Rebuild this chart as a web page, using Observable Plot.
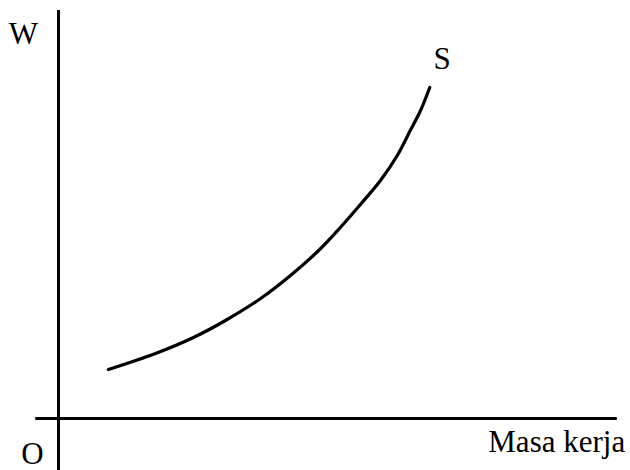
<!DOCTYPE html>
<html>
<head>
<meta charset="utf-8">
<script src="https://cdn.jsdelivr.net/npm/d3@7"></script>
<script src="https://cdn.jsdelivr.net/npm/@observablehq/plot@0.6"></script>
<style>
  html, body { margin: 0; padding: 0; background: #fff; }
  #chart svg { display: block; }
</style>
</head>
<body>
<div id="chart"></div>
<script>
// Labour supply curve S: quantity of labour (Masa kerja) vs wage (W)
const laborQty = [9.2, 17.9, 24.9, 30.8, 37.3, 42.8, 48.0, 52.0, 55.7, 59.4, 62.5, 64.9, 66.8, 68.5];
const wageLevel = [12.25, 16.25, 20.25, 24.5, 30, 35.75, 42, 47.75, 53.5, 59.5, 65.75, 72, 77, 82.75];
const curveName = "S";
const xAxisTitle = "Masa kerja";
const yAxisTitle = "W";
const originLabel = "O";

const curve = laborQty.map((x, i) => ({x, y: wageLevel[i]}));

const font = "'Liberation Serif', 'Times New Roman', serif";
const fs = 31;

const chart = Plot.plot({
  width: 630,
  height: 470,
  marginLeft: 58,
  marginRight: 30,
  marginTop: 18,
  marginBottom: 52,
  x: {domain: [0, 100], axis: null},
  y: {domain: [0, 100], axis: null},
  style: {fontFamily: font, background: "#fff", color: "#000"},
  marks: [
    Plot.ruleX([0], {y1: -13, y2: 102, stroke: "#000", strokeWidth: 3}),
    Plot.ruleY([0], {x1: -4.2, x2: 103.1, stroke: "#000", strokeWidth: 3}),
    Plot.line(curve, {x: "x", y: "y", curve: "catmull-rom", stroke: "#000", strokeWidth: 3.2}),
    Plot.text([yAxisTitle], {x: -6.5, y: 96, text: d => d, fontSize: fs, fontFamily: font, fill: "#000"}),
    Plot.text([curveName], {x: 70.8, y: 89.8, text: d => d, fontSize: fs, fontFamily: font, fill: "#000"}),
    Plot.text([originLabel], {x: -4.8, y: -8.9, text: d => d, fontSize: fs, fontFamily: font, fill: "#000"}),
    Plot.text([xAxisTitle], {x: 79.3, y: -6, text: d => d, fontSize: fs, fontFamily: font, textAnchor: "start", fill: "#000"})
  ]
});
document.getElementById("chart").appendChild(chart);
</script>
</body>
</html>
